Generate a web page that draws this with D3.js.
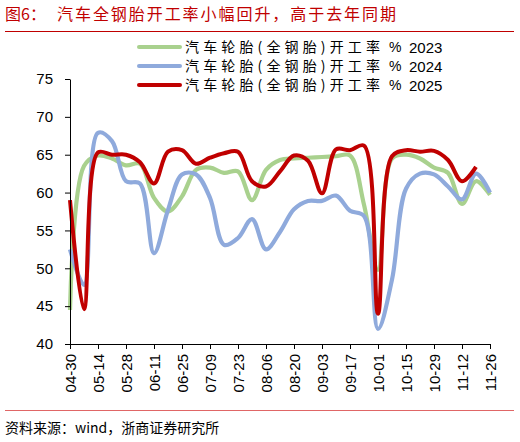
<!DOCTYPE html>
<html>
<head>
<meta charset="utf-8">
<script src="https://cdn.jsdelivr.net/npm/d3@7"></script>
<style>
  body { margin: 0; background: #fff; }
  svg { display: block; }
</style>
</head>
<body>
<div class="chart"></div>
<script>
// weekly categories (dates) and the three yearly series
const weeks = ["04-30","05-07","05-14","05-21","05-28","06-04","06-11","06-18","06-25","07-02",
    "07-09","07-16","07-23","07-30","08-06","08-13","08-20","08-27","09-03","09-10",
    "09-17","09-24","10-01","10-08","10-15","10-22","10-29","11-05","11-12","11-19","11-26"];

const rate2023 = [44.5, 63.5, 64.9, 64.5, 63.6, 63.8, 59.3, 57.5, 59.5, 63.0,
    63.3, 62.6, 62.8, 59.0, 63.0, 64.3, 64.5, 64.6, 64.7, 64.8,
    64.9, 58.4, 49.8, 64.5, 65.0, 64.5, 63.3, 62.6, 58.5, 61.5, 59.7];

const rate2024 = [52.5, 47.8, 67.9, 66.8, 61.5, 61.2, 52.0, 57.7, 62.4, 62.4,
    59.3, 53.1, 54.0, 56.5, 52.5, 54.8, 57.8, 58.9, 58.9, 59.6,
    57.6, 56.9, 42.0, 48.5, 60.5, 62.5, 62.4, 60.8, 59.1, 62.5, 60.0];

const rate2025 = [59.0, 44.6, 65.3, 65.0, 65.0, 64.0, 61.2, 65.4, 65.6, 63.8,
    64.6, 65.2, 65.4, 61.5, 60.8, 62.8, 64.9, 64.2, 59.9, 65.7,
    65.6, 66.2, 44.0, 64.8, 65.6, 65.4, 65.5, 64.3, 61.5, 63.4];

const seriesYears = ["2023", "2024", "2025"];
const seriesLabel = "汽车轮胎(全钢胎)开工率";
const seriesColors = ["#a9d18e", "#8faadc", "#c00000"];
const yTicks = [40, 45, 50, 55, 60, 65, 70, 75];

const W = 520, H = 442;
const svg = d3.select(".chart").append("svg")
    .attr("width", W)
    .attr("height", H);

const cjk = "'Noto Sans CJK SC', 'Noto Sans', sans-serif";
const latin = "'Liberation Sans', Arial, sans-serif";

// title + rule
svg.append("text")
    .attr("x", 5).attr("y", 20)
    .attr("fill", "#c00000")
    .style("font-family", cjk)
    .style("font-size", "16px")
    .text("图6：");

svg.append("text")
    .attr("x", 57).attr("y", 20)
    .attr("textLength", 339)
    .attr("lengthAdjust", "spacing")
    .attr("fill", "#c00000")
    .style("font-family", cjk)
    .style("font-size", "16px")
    .text("汽车全钢胎开工率小幅回升，高于去年同期");

svg.append("line")
    .attr("x1", 5).attr("x2", 514)
    .attr("y1", 31.5).attr("y2", 31.5)
    .attr("stroke", "#c00000").attr("stroke-width", 1);

// scales
const xScale = d3.scalePoint()
    .domain(weeks)
    .range([70, 490]);

const yScale = d3.scaleLinear()
    .domain([40, 75])
    .range([344, 79]);

// lines
const line = d3.line()
    .x((d, i) => xScale(weeks[i]))
    .y(d => yScale(d))
    .curve(d3.curveCatmullRom.alpha(0.5));

[rate2023, rate2024, rate2025].forEach((vals, k) => {
    svg.append("path")
        .datum(vals)
        .attr("fill", "none")
        .attr("stroke", seriesColors[k])
        .attr("stroke-width", k === 2 ? 4 : 4.2)
        .attr("stroke-linejoin", "round")
        .attr("d", line);
});

// Y axis
const yAxis = svg.append("g")
    .attr("transform", "translate(70,0)")
    .call(d3.axisLeft(yScale).tickValues(yTicks).tickSize(5).tickSizeOuter(0));
yAxis.select(".domain").attr("stroke", "#000");
yAxis.selectAll(".tick line").attr("stroke", "#000");
yAxis.selectAll(".tick text")
    .attr("x", -17)
    .attr("fill", "#000")
    .style("font-family", latin)
    .style("font-size", "15px");

// X axis
const xAxis = svg.append("g")
    .attr("transform", "translate(0,344)")
    .call(d3.axisBottom(xScale)
        .tickValues(weeks.filter((d, i) => i % 2 === 0))
        .tickSize(5).tickSizeOuter(0));
xAxis.select(".domain").attr("d", "M70,0.5H490").attr("stroke", "#000");
xAxis.selectAll(".tick line").attr("stroke", "#000");
xAxis.selectAll(".tick text")
    .attr("transform", "rotate(-90)")
    .attr("x", -10)
    .attr("y", 0)
    .attr("dy", "0.35em")
    .attr("text-anchor", "end")
    .attr("fill", "#000")
    .style("font-family", latin)
    .style("font-size", "15px");

// legend
const legend = svg.append("g");
seriesYears.forEach((year, k) => {
    const y = 47 + k * 19;
    legend.append("line")
        .attr("x1", 139).attr("x2", 180)
        .attr("y1", y).attr("y2", y)
        .attr("stroke", seriesColors[k])
        .attr("stroke-width", 4)
        .attr("stroke-linecap", "round");
    legend.append("text")
        .attr("x", 185).attr("y", y + 5)
        .attr("textLength", 195)
        .attr("lengthAdjust", "spacing")
        .attr("fill", "#000")
        .style("font-family", cjk)
        .style("font-size", "14px")
        .text(seriesLabel);
    legend.append("text")
        .attr("x", 389).attr("y", y + 5)
        .attr("fill", "#000")
        .style("font-family", latin)
        .style("font-size", "14px")
        .text("%");
    legend.append("text")
        .attr("x", 409).attr("y", y + 5.5)
        .attr("fill", "#000")
        .style("font-family", latin)
        .style("font-size", "15px")
        .text(year);
});

// footer
svg.append("line")
    .attr("x1", 5).attr("x2", 514)
    .attr("y1", 410.5).attr("y2", 410.5)
    .attr("stroke", "#e06666").attr("stroke-width", 1);

svg.append("text")
    .attr("x", 5).attr("y", 433)
    .attr("fill", "#000")
    .style("font-family", cjk)
    .style("font-size", "14px")
    .text("资料来源：wind，浙商证券研究所");
</script>
</body>
</html>
